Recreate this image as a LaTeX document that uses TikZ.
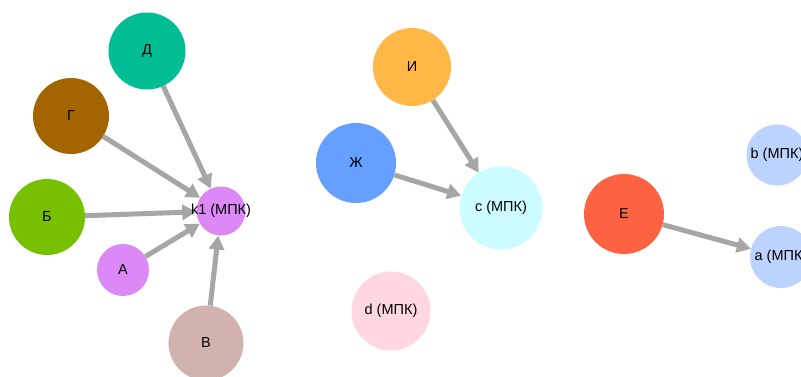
\documentclass[tikz,border=0pt]{standalone}
\usepackage{fontspec}
\setmainfont{Liberation Sans}
\usetikzlibrary{arrows.meta}
\definecolor{cD}{HTML}{00BD94}
\definecolor{cG}{HTML}{A36500}
\definecolor{cB}{HTML}{76C000}
\definecolor{cA}{HTML}{DD88F7}
\definecolor{cV}{HTML}{D2B2AD}
\definecolor{cI}{HTML}{FFB846}
\definecolor{cZh}{HTML}{659FFF}
\definecolor{cC}{HTML}{CCFCFF}
\definecolor{cDd}{HTML}{FFD8DF}
\definecolor{cE}{HTML}{FF6240}
\definecolor{cAb}{HTML}{BDD3FF}
\definecolor{edgegray}{HTML}{A6A6A6}
\begin{document}
\begin{tikzpicture}[x=1pt,y=-1pt,
  vert/.style={circle,inner sep=0pt,minimum size=#1},
  caption/.style={font=\fontsize{14.5}{15}\selectfont,text=black,inner sep=0pt},
  link/.style={draw=edgegray,line width=5pt,-{Triangle[length=14pt,width=15pt]}}]
\useasboundingbox[fill=white] (0,0) rectangle (801,376);
% left cluster
\node[vert=77pt,fill=cD]  (D)  at (147,51)  {};
\node[vert=76pt,fill=cG]  (G)  at (71,116)  {};
\node[vert=76pt,fill=cB]  (B)  at (47,217)  {};
\node[vert=52pt,fill=cA]  (A)  at (123,270) {};
\node[vert=49pt,fill=cA]  (k1) at (221,211) {};
\node[vert=75pt,fill=cV]  (V)  at (206,343) {};
% middle cluster
\node[vert=78pt,fill=cI]  (I)  at (412,67)  {};
\node[vert=80pt,fill=cZh] (Zh) at (356,163) {};
\node[vert=83pt,fill=cC]  (c)  at (501,208) {};
\node[vert=79pt,fill=cDd] (d)  at (391,311) {};
% right cluster
\node[vert=80pt,fill=cE]  (E)  at (624,214) {};
\node[vert=61pt,fill=cAb] (b)  at (777,155) {};
\node[vert=62pt,fill=cAb] (a)  at (781,257) {};
% connectors
\draw[link] (D) -- (k1);
\draw[link] (G) -- (k1);
\draw[link] (B) -- (k1);
\draw[link] (A) -- (k1);
\draw[link] (V) -- (k1);
\draw[link] (I) -- (c);
\draw[link] (Zh) -- (c);
\draw[link] (E) -- (a);
% captions, set last so they sit over the arrowheads
\node[caption] (Dt)  at (D)  {Д};
\node[caption] (Gt)  at (G)  {Г};
\node[caption] (Bt)  at (B)  {Б};
\node[caption] (At)  at (A)  {А};
\node[caption] (k1t) at (k1) {k1 (МПК)};
\node[caption] (Vt)  at (V)  {В};
\node[caption] (It)  at (I)  {И};
\node[caption] (Zht) at (Zh) {Ж};
\node[caption] (ct)  at (c)  {c (МПК)};
\node[caption] (dt)  at (d)  {d (МПК)};
\node[caption] (Et)  at (E)  {Е};
\node[caption] (bt)  at (b)  {b (МПК)};
\node[caption] (at)  at (a)  {a (МПК)};
\end{tikzpicture}
\end{document}
